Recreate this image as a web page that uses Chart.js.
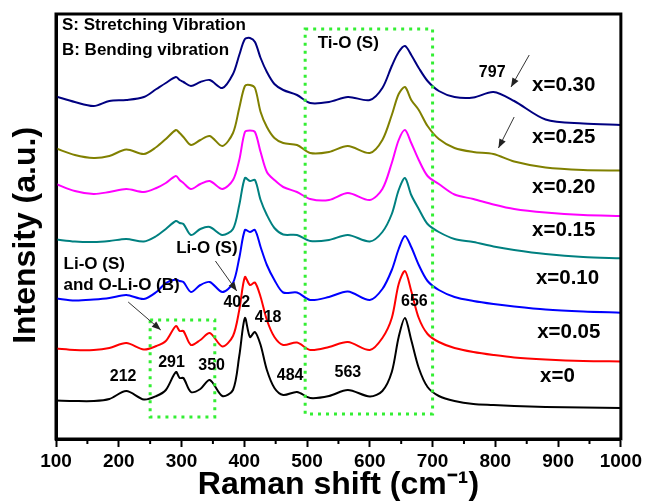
<!DOCTYPE html>
<html>
<head>
<meta charset="utf-8">
<script src="https://cdn.jsdelivr.net/npm/chart.js@4.4.0/dist/chart.umd.min.js"></script>
<style>
    html, body { margin: 0; padding: 0; background: #fff; }
</style>
</head>
<body>
<canvas id="ramanChart" width="645" height="502"></canvas>
<script>
let ramanShift = [100, 130, 160, 185, 212, 240, 260, 275, 291, 297, 303, 315, 330, 345, 365, 382, 392, 401, 409, 417, 426, 436, 448, 462, 484, 505, 535, 565, 600, 620, 635, 646, 656, 666, 678, 692, 710, 735, 765, 797, 830, 880, 940, 1000];

// intensities (a.u., stacked with offsets as in the figure)
let spectrumX000 = [38.5, 38, 38, 40, 48, 39.5, 43, 49, 67, 61, 61, 47, 50, 59, 43, 49, 83, 121, 102, 107, 94, 69, 51, 44, 47, 41, 43, 49, 42.5, 48, 67, 102, 121, 99, 71, 52, 43, 38, 35, 34, 33, 32, 31.5, 31];
let spectrumX005 = [90.5, 89, 89, 91, 96, 89.5, 93, 98, 113, 108, 108, 94, 99, 106, 92.5, 103, 129, 162, 154, 156.5, 142, 119, 102, 94, 96.5, 89, 92, 97, 89, 101, 121, 155, 168, 148, 121, 105, 97, 91, 87, 84, 81.5, 79.5, 78, 77.5];
let spectrumX010 = [140.5, 138.5, 139.5, 141, 144, 140, 147, 156, 159.5, 158, 157, 147, 154, 157, 147, 156, 181, 209, 207, 209, 192, 174, 159, 146.5, 146.5, 139, 142, 147.5, 139, 150, 169, 190, 203, 192, 174, 158, 149, 142, 138, 135, 132.5, 129.5, 127.5, 126.3];
let spectrumX015 = [199.5, 197.5, 197, 198, 200, 197.5, 203, 210, 218, 216, 215, 204, 210, 212, 204, 210, 234, 261, 258, 259, 239, 224, 211, 204.5, 204, 198, 199, 204, 197.5, 207, 225, 249, 261, 244, 230, 215, 207, 200, 197, 192.5, 189, 185, 182, 180.7];
let spectrumX020 = [255, 248, 245, 247, 250, 247, 251, 256, 263, 259, 256, 250, 255, 258, 250, 259, 279, 307, 308.5, 307, 287, 267, 259, 252, 247, 240, 239, 246, 239, 250, 276, 299, 309, 296, 279, 263, 255, 244.5, 240, 234.5, 230, 226.5, 224, 223];
let spectrumX025 = [290.5, 284, 281, 283, 289.5, 285, 292, 300, 309, 306, 302, 294, 299, 303, 293, 306, 331, 353, 354, 351, 327, 312, 301, 296, 294, 286, 287, 293, 286, 299, 324, 345, 352, 339, 329, 313, 300, 291, 287, 285, 277.5, 271.5, 269, 268.5];
let spectrumX030 = [342.5, 337, 333, 338, 339, 342, 350, 356, 362, 359, 357, 353, 357, 359, 351, 365, 384, 400, 401, 397, 381, 367, 355, 349, 344, 336, 337, 342, 339, 351, 373, 387, 393, 384, 371, 358, 348, 342, 341.5, 347, 338, 319.5, 315.5, 314];

let sampleNames = ['x=0', 'x=0.05', 'x=0.10', 'x=0.15', 'x=0.20', 'x=0.25', 'x=0.30'];
let peakNames = ['212', '291', '350', '402', '418', '484', '563', '656', '797'];
let xTicks = [100, 200, 300, 400, 500, 600, 700, 800, 900, 1000];

let spectra = [spectrumX000, spectrumX005, spectrumX010, spectrumX015, spectrumX020, spectrumX025, spectrumX030];
let lineColors = ['#000000', '#ff0000', '#0000ff', '#008080', '#ff00ff', '#808000', '#000080'];

// where the labels sit (data coordinates)
let samplePos = [[899, 63], [917, 107], [915, 161], [909, 209], [909, 252], [909, 302], [909, 354]];
let peakPos = [[207, 62], [284, 76], [348, 73], [388, 136], [438, 121], [473, 63], [565, 66], [671, 137], [795, 366]];
let notes = [
    { text: 'S: Stretching Vibration', at: [109.5, 414] },
    { text: 'B: Bending vibration', at: [109.5, 389] },
    { text: 'Ti-O (S)', at: [517, 396] },
    { text: 'Li-O (S)', at: [291.5, 191] },
    { text: 'Li-O (S)', at: [112, 175] },
    { text: 'and O-Li-O (B)', at: [112, 154] }
];
let arrows = [[[854, 384], [825, 352]], [[830, 322], [805, 291]], [[354, 178], [388, 148]], [[215, 137], [267, 109]]];
let boxes = [[250, 353, 22, 119], [497, 700, 25, 410]];

let fontFamily = "'Liberation Sans', Arial, sans-serif";


function buildDatasets() {
    let sets = [];

    for (let i = 0; i < spectra.length; i++) {
        sets.push({
            label: sampleNames[i],
            data: ramanShift.map((v, j) => ({ x: v, y: spectra[i][j] })),
            borderColor: lineColors[i],
            borderWidth: 2,
            pointRadius: 0,
            fill: false,
            tension: 0.3
        });
    }
    return sets;
}


function drawArrow(ctx, x1, y1, x2, y2) {
    let a = Math.atan2(y2 - y1, x2 - x1);

    ctx.beginPath();
    ctx.moveTo(x1, y1);
    ctx.lineTo(x2, y2);
    ctx.stroke();
    ctx.beginPath();
    ctx.moveTo(x2, y2);
    ctx.lineTo(x2 - 9 * Math.cos(a) + 3.5 * Math.sin(a), y2 - 9 * Math.sin(a) - 3.5 * Math.cos(a));
    ctx.lineTo(x2 - 9 * Math.cos(a) - 3.5 * Math.sin(a), y2 - 9 * Math.sin(a) + 3.5 * Math.cos(a));
    ctx.closePath();
    ctx.fill();
}


let decorations = {
    id: 'decorations',
    afterDatasetsDraw(chart) {
        let ctx = chart.ctx;
        let area = chart.chartArea;
        let xs = chart.scales.x;
        let ys = chart.scales.y;

        ctx.save();

        // green dotted boxes
        ctx.strokeStyle = '#33ee33';
        ctx.lineWidth = 3;
        ctx.setLineDash([3, 5]);
        boxes.forEach((b) => {
            let l = xs.getPixelForValue(b[0]);
            let r = xs.getPixelForValue(b[1]);
            let t = ys.getPixelForValue(b[3]);
            let bt = ys.getPixelForValue(b[2]);
            ctx.strokeRect(l, t, r - l, bt - t);
        });
        ctx.setLineDash([]);

        // arrows
        ctx.strokeStyle = '#333';
        ctx.fillStyle = '#222';
        ctx.lineWidth = 1;
        arrows.forEach((a) => {
            drawArrow(ctx, xs.getPixelForValue(a[0][0]), ys.getPixelForValue(a[0][1]),
                xs.getPixelForValue(a[1][0]), ys.getPixelForValue(a[1][1]));
        });

        // text
        ctx.fillStyle = '#000';
        ctx.textBaseline = 'middle';
        ctx.textAlign = 'left';
        ctx.font = 'bold 17px ' + fontFamily;
        notes.forEach((n) => {
            ctx.fillText(n.text, xs.getPixelForValue(n.at[0]), ys.getPixelForValue(n.at[1]));
        });

        ctx.textAlign = 'center';
        ctx.font = 'bold 16px ' + fontFamily;
        for (let i = 0; i < peakNames.length; i++) {
            ctx.fillText(peakNames[i], xs.getPixelForValue(peakPos[i][0]), ys.getPixelForValue(peakPos[i][1]));
        }

        ctx.font = 'bold 20.5px ' + fontFamily;
        for (let i = 0; i < sampleNames.length; i++) {
            ctx.fillText(sampleNames[i], xs.getPixelForValue(samplePos[i][0]), ys.getPixelForValue(samplePos[i][1]));
        }

        // frame
        ctx.strokeStyle = '#000';
        ctx.lineWidth = 3;
        ctx.strokeRect(area.left, area.top, area.right - area.left, area.bottom - area.top);

        // minor ticks halfway between the labelled ones
        ctx.lineWidth = 2;
        for (let i = 0; i < xTicks.length - 1; i++) {
            let px = xs.getPixelForValue((xTicks[i] + xTicks[i + 1]) / 2);
            ctx.beginPath();
            ctx.moveTo(px, area.bottom);
            ctx.lineTo(px, area.bottom + 5);
            ctx.stroke();
        }

        ctx.restore();
    }
};


let ramanChart = new Chart('ramanChart', {
    type: 'line',
    data: { datasets: buildDatasets() },
    options: {
        responsive: false,
        animation: false,
        layout: { padding: { top: 14, right: 23, left: 0, bottom: 0 } },
        plugins: {
            legend: { display: false },
            tooltip: { enabled: false }
        },
        scales: {
            x: {
                type: 'linear',
                min: xTicks[0],
                max: xTicks[xTicks.length - 1],
                afterBuildTicks: (scale) => { scale.ticks = xTicks.map((v) => ({ value: v })); },
                ticks: {
                    color: '#000',
                    padding: 3,
                    maxRotation: 0,
                    autoSkip: false,
                    callback: (value) => String(value),
                    font: { family: fontFamily, size: 19, weight: 'bold' }
                },
                grid: { display: true, drawOnChartArea: false, tickLength: 8, tickWidth: 2, tickColor: '#000' },
                border: { display: true, color: '#000', width: 3 },
                title: {
                    display: true,
                    text: 'Raman shift (cm\u207B\u00B9)',
                    color: '#000',
                    padding: { top: 0, bottom: 1 },
                    font: { family: fontFamily, size: 32, weight: 'bold', lineHeight: 1 }
                },
                afterFit: (scale) => { scale.height = 63; }
            },
            y: {
                min: 0,
                max: 425,
                ticks: { display: false },
                grid: { display: false },
                border: { display: true, color: '#000', width: 3 },
                title: {
                    display: true,
                    // two trailing spaces nudge the label a little lower, as in the figure
                    text: 'Intensity (a.u.)  ',
                    color: '#000',
                    padding: { top: 10, bottom: 0 },
                    font: { family: fontFamily, size: 32, weight: 'bold', lineHeight: 1 }
                },
                afterFit: (scale) => { scale.width = 56; }
            }
        }
    },
    plugins: [decorations]
});
</script>
</body>
</html>
